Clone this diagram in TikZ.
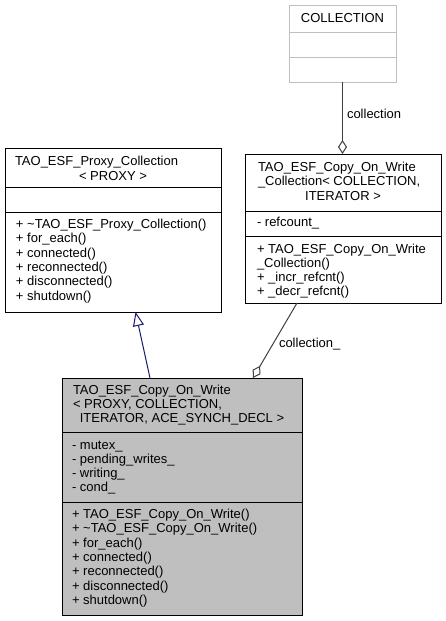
\documentclass[tikz,border=0pt]{standalone}
\usepackage{fontspec}
\setmainfont{Liberation Sans}
\usetikzlibrary{arrows.meta,calc}
\definecolor{grey75}{HTML}{BFBFBF}
\definecolor{edgeblue}{HTML}{191970}
\definecolor{edgegray}{HTML}{404040}
\tikzset{
  umlbox/.style={draw=black, line width=1pt, anchor=north west, inner sep=0pt, outer sep=0pt},
  sepline/.style={draw=black, line width=1pt},
  txt/.style={anchor=base west, inner sep=0pt, outer sep=0pt, font=\fontsize{13}{14.3}\selectfont},
  ctxt/.style={txt, anchor=base},
  inherit/.style={draw=edgeblue, line width=1pt, -{Triangle[open, length=14pt, width=11pt]}},
  aggr/.style={draw=edgegray, line width=1pt, -{Diamond[open, length=14pt, width=9pt]}}
}
\begin{document}
\begin{tikzpicture}[x=1pt,y=-1pt]
\fill[white] (0,0) rectangle (445,621);
\useasboundingbox (0,0) rectangle (445,621);

% COLLECTION box
\node[umlbox, draw=grey75, minimum width=107, minimum height=77] (coll) at (289,5) {};
\draw[draw=grey75, line width=1pt] (289,32) -- (396,32) (289,57) -- (396,57);
\node[ctxt] (colltitle) at (342.5,23) {COLLECTION};

% Proxy collection box
\node[umlbox, fill=white, minimum width=216, minimum height=164] (proxy) at (5,148) {};
\draw[sepline] (5,187) -- (221,187) (5,212) -- (221,212);
\node[txt] (pt1) at (15,165.5) {TAO\_ESF\_Proxy\_Collection};
\node[ctxt] (pt2) at (113,180) {< PROXY >};
\foreach \t [count=\i] in {{+ \textasciitilde TAO\_ESF\_Proxy\_Collection()},{+ for\_each()},{+ connected()},{+ reconnected()},{+ disconnected()},{+ shutdown()}}
  \node[txt] (pm\i) at (16,{228.5+14.3*(\i-1)}) {\t};

% Copy_On_Write_Collection box
\node[umlbox, fill=white, minimum width=196, minimum height=149] (cowc) at (245,154) {};
\draw[sepline] (245,211) -- (441,211) (245,236) -- (441,236);
\node[txt] (ct1) at (258,171.5) {TAO\_ESF\_Copy\_On\_Write};
\node[txt] (ct2) at (258,185.8) {\_Collection< COLLECTION,};
\node[ctxt] (ct3) at (343,200.1) {ITERATOR >};
\node[txt] (ca1) at (257,226.5) {- refcount\_};
\foreach \t [count=\i] in {{+ TAO\_ESF\_Copy\_On\_Write},{\_Collection()},{+ \_incr\_refcnt()},{+ \_decr\_refcnt()}}
  \node[txt] (cm\i) at (257,{253+14*(\i-1)}) {\t};

% Copy_On_Write box
\node[umlbox, fill=grey75, minimum width=240, minimum height=237] (cow) at (62,378) {};
\draw[sepline] (62,432) -- (302,432) (62,502) -- (302,502);
\node[txt] (wt1) at (73,394.3) {TAO\_ESF\_Copy\_On\_Write};
\node[txt] (wt2) at (73,408.5) {< PROXY, COLLECTION,};
\node[ctxt] (wt3) at (182,422.7) {ITERATOR, ACE\_SYNCH\_DECL >};
\foreach \t [count=\i] in {{- mutex\_},{- pending\_writes\_},{- writing\_},{- cond\_}}
  \node[txt] (wa\i) at (72,{449+14.2*(\i-1)}) {\t};
\foreach \t [count=\i] in {{+ TAO\_ESF\_Copy\_On\_Write()},{+ \textasciitilde TAO\_ESF\_Copy\_On\_Write()},{+ for\_each()},{+ connected()},{+ reconnected()},{+ disconnected()},{+ shutdown()}}
  \node[txt] (wm\i) at (72,{518.5+14.3*(\i-1)}) {\t};

% connectors
\draw[inherit] ($(cow.north west)+(88,0)$) -- ($(proxy.south west)+(130.5,0)$);
\draw[aggr] (coll.south) -- (cowc.north -| coll.south);
\draw[aggr] ($(cowc.south west)+(52,0)$) -- ($(cow.north west)+(191,0)$);
\node[txt] (lcoll) at (347,118) {collection};
\node[txt] (lcoll2) at (279,347) {collection\_};
\end{tikzpicture}
\end{document}
